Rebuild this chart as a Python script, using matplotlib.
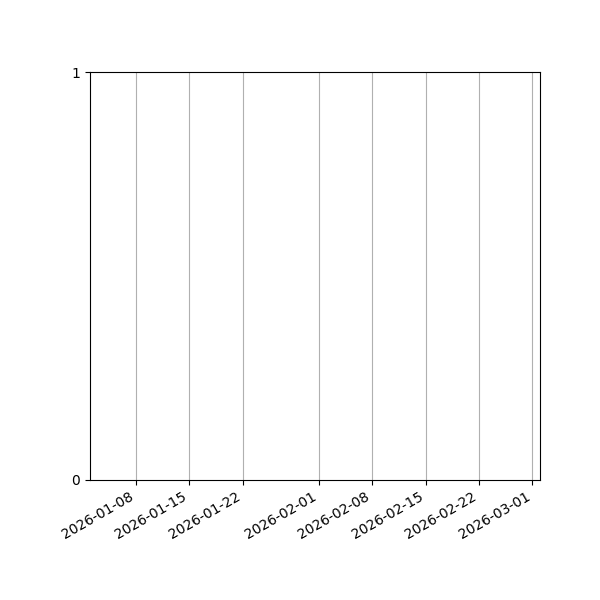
import datetime as dt
import matplotlib
matplotlib.use("Agg")
import matplotlib.pyplot as plt
import matplotlib.dates as mdates

# the chart shows no data, only an empty date axis
dates = []
values = []
x_start = dt.datetime(2026, 1, 2)
x_end = dt.datetime(2026, 3, 2)
y_ticks = [0, 1]

fig, ax = plt.subplots(figsize=(6, 6), dpi=100)
fig.subplots_adjust(left=0.15, right=0.9, top=0.88, bottom=0.2)

ax.plot(dates, values)
ax.set_xlim(x_start, x_end)
ax.set_ylim(0, 1)
ax.set_yticks(y_ticks)
ax.xaxis.set_major_locator(mdates.DayLocator(bymonthday=[1, 8, 15, 22]))
ax.xaxis.set_major_formatter(mdates.DateFormatter("%Y-%m-%d"))
ax.grid(True, axis="x", color="#b0b0b0", linewidth=0.8)
plt.setp(ax.get_xticklabels(), rotation=30, ha="right")

fig.savefig("out.png")
